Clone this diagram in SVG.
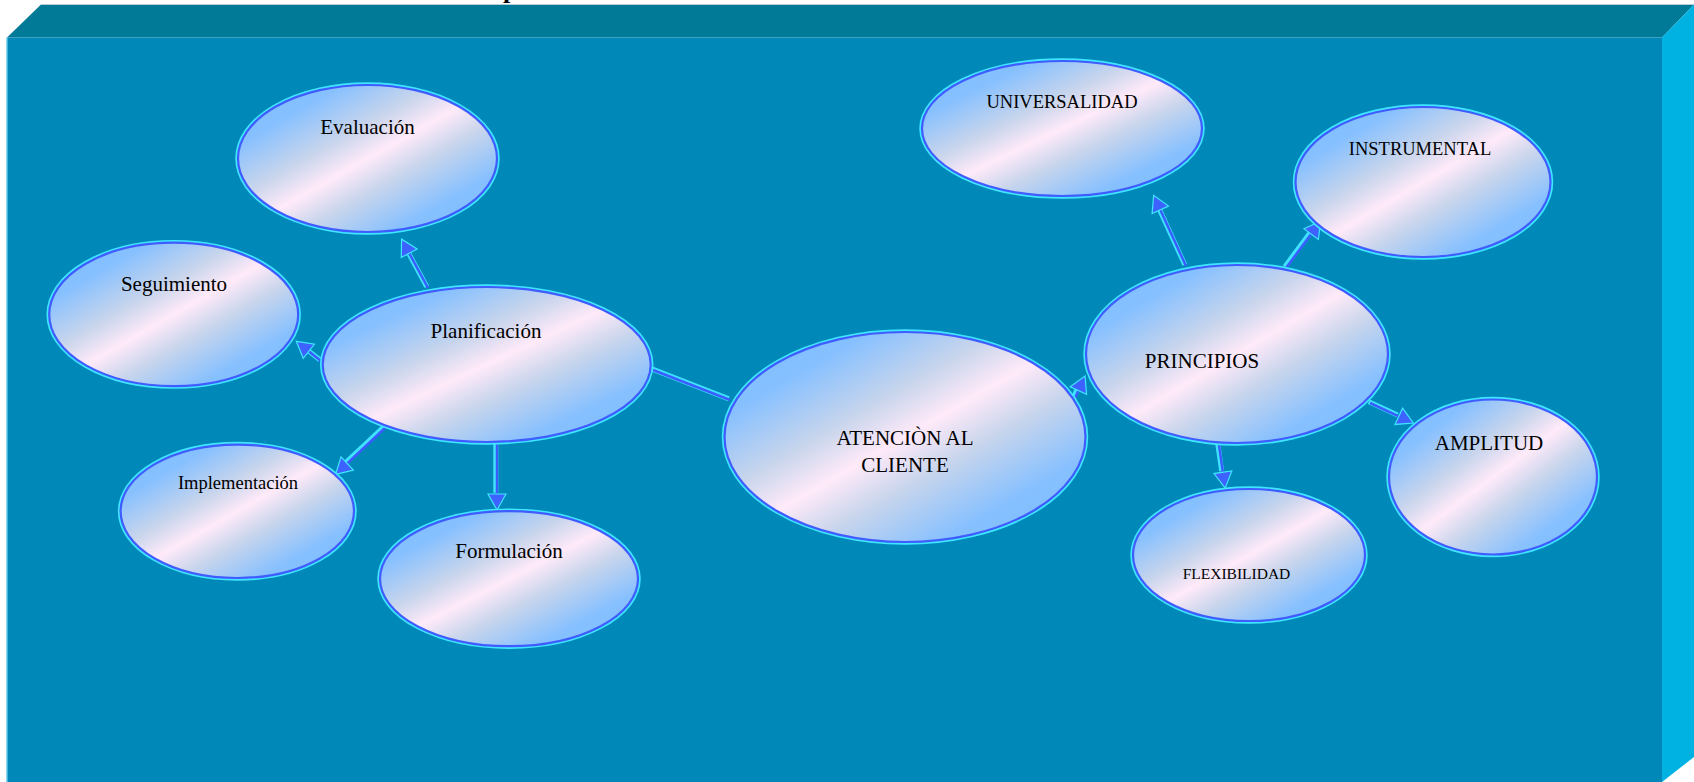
<svg xmlns="http://www.w3.org/2000/svg" width="1694" height="782" viewBox="0 0 1694 782">
<style>
.halo{fill:none;stroke:#40E6FF;stroke-width:5.5}
.ell{fill:url(#g);stroke:#3F5CFF;stroke-width:2.2}
.t{font-family:"Liberation Serif","Times New Roman",serif;fill:#000;text-anchor:middle}
.sh{fill:none;stroke:#3FE3FF;stroke-width:5;stroke-linecap:butt}
.ln{fill:none;stroke:#3B5CFF;stroke-width:2.5}
</style>
<defs>
<linearGradient id="g" x1="0" y1="0" x2="1" y2="1">
<stop offset="0" stop-color="#7ABBFF"/>
<stop offset="0.2" stop-color="#86C0FF"/>
<stop offset="0.38" stop-color="#C8D5EC"/>
<stop offset="0.5" stop-color="#FFEAF9"/>
<stop offset="0.62" stop-color="#C8D5EC"/>
<stop offset="0.8" stop-color="#86C0FF"/>
<stop offset="1" stop-color="#7ABBFF"/>
</linearGradient>
<marker id="ah" markerUnits="userSpaceOnUse" markerWidth="20" markerHeight="22" viewBox="-1 -11 18 22" refX="0" refY="0" orient="auto">
<path d="M0,-9 L16,0 L0,9 Z" fill="#3D62FF" stroke="#3FE6FF" stroke-width="1.2"/>
</marker>
</defs>

<g id="background">
<rect x="0" y="0" width="1694" height="782" fill="#FFFFFF"/>
<polygon points="7,37.5 41,4.5 1694,4.5 1662,37.5" fill="#007A96"/>
<line x1="41" y1="4.5" x2="1694" y2="4.5" stroke="#B8CCD4" stroke-width="1"/>
<rect x="7" y="37.5" width="1655" height="746" fill="#0088B9"/>
<line x1="7" y1="37.5" x2="7" y2="782" stroke="#5CC8E8" stroke-width="1.5"/>
<polygon points="1662,37.5 1694,4.5 1694,757 1662,782" fill="#00B2E2"/>
<text x="503" y="-2" font-family="Liberation Serif, serif" font-weight="bold" font-size="26" fill="#000">p</text>
</g>

<g id="connectors">
<g transform="translate(-1.2,-1.2)">
<path class="sh" d="M428,288 L409.2,253.2"/>
<path class="sh" d="M321,361 L308.8,351.3"/>
<path class="sh" d="M385,428 L347.2,463.5"/>
<path class="sh" d="M497,444 L497,494"/>
<path class="sh" d="M653,370 L730,400"/>
<path class="sh" d="M1075,398 L1078.4,390.6"/>
<path class="sh" d="M1186,266 L1160.3,209.8"/>
<path class="sh" d="M1286,268 L1311.1,234.1"/>
<path class="sh" d="M1219,445 L1222.9,472.3"/>
<path class="sh" d="M1370,403 L1398.8,416.3"/>
</g>
<path class="ln" d="M428,288 L409.2,253.2" marker-end="url(#ah)"/>
<path class="ln" d="M321,361 L308.8,351.3" marker-end="url(#ah)"/>
<path class="ln" d="M385,428 L347.2,463.5" marker-end="url(#ah)"/>
<path class="ln" d="M497,444 L497,494" marker-end="url(#ah)"/>
<path class="ln" d="M653,370 L730,400"/>
<path class="ln" d="M1075,398 L1078.4,390.6" marker-end="url(#ah)"/>
<path class="ln" d="M1186,266 L1160.3,209.8" marker-end="url(#ah)"/>
<path class="ln" d="M1286,268 L1311.1,234.1" marker-end="url(#ah)"/>
<path class="ln" d="M1219,445 L1222.9,472.3" marker-end="url(#ah)"/>
<path class="ln" d="M1370,403 L1398.8,416.3" marker-end="url(#ah)"/>
</g>

<g id="n-evaluacion">
<ellipse class="halo" cx="367.5" cy="158.5" rx="129.5" ry="73.5"/>
<ellipse class="ell" cx="367.5" cy="158.5" rx="129.5" ry="73.5"/>
<text class="t" x="367.5" y="134" font-size="21">Evaluación</text>
</g>
<g id="n-seguimiento">
<ellipse class="halo" cx="173.7" cy="314.4" rx="124.5" ry="71.7"/>
<ellipse class="ell" cx="173.7" cy="314.4" rx="124.5" ry="71.7"/>
<text class="t" x="174" y="291" font-size="21">Seguimiento</text>
</g>
<g id="n-planificacion">
<ellipse class="halo" cx="486.7" cy="364.5" rx="164" ry="77.5"/>
<ellipse class="ell" cx="486.7" cy="364.5" rx="164" ry="77.5"/>
<text class="t" x="486" y="338" font-size="21">Planificación</text>
</g>
<g id="n-implementacion">
<ellipse class="halo" cx="237.3" cy="511.3" rx="116.7" ry="66.7"/>
<ellipse class="ell" cx="237.3" cy="511.3" rx="116.7" ry="66.7"/>
<text class="t" x="238" y="489" font-size="18.5">Implementación</text>
</g>
<g id="n-formulacion">
<ellipse class="halo" cx="509" cy="578.7" rx="129" ry="67.5"/>
<ellipse class="ell" cx="509" cy="578.7" rx="129" ry="67.5"/>
<text class="t" x="509" y="558" font-size="21">Formulación</text>
</g>
<g id="n-atencion">
<ellipse class="halo" cx="905" cy="437" rx="180.5" ry="105"/>
<ellipse class="ell" cx="905" cy="437" rx="180.5" ry="105"/>
<text class="t" x="905" y="445" font-size="21">ATENCIÒN AL</text>
<text class="t" x="905" y="472" font-size="21">CLIENTE</text>
</g>
<g id="n-universalidad">
<ellipse class="halo" cx="1062" cy="128.5" rx="140" ry="67.5"/>
<ellipse class="ell" cx="1062" cy="128.5" rx="140" ry="67.5"/>
<text class="t" x="1062" y="108" font-size="18.5">UNIVERSALIDAD</text>
</g>
<g id="n-instrumental">
<ellipse class="halo" cx="1423" cy="182" rx="127.5" ry="75"/>
<ellipse class="ell" cx="1423" cy="182" rx="127.5" ry="75"/>
<text class="t" x="1420" y="155" font-size="18.5">INSTRUMENTAL</text>
</g>
<g id="n-principios">
<ellipse class="halo" cx="1237" cy="354" rx="151" ry="89"/>
<ellipse class="ell" cx="1237" cy="354" rx="151" ry="89"/>
<text class="t" x="1202" y="368" font-size="21">PRINCIPIOS</text>
</g>
<g id="n-amplitud">
<ellipse class="halo" cx="1493" cy="477" rx="104" ry="77.5"/>
<ellipse class="ell" cx="1493" cy="477" rx="104" ry="77.5"/>
<text class="t" x="1489" y="450" font-size="21">AMPLITUD</text>
</g>
<g id="n-flexibilidad">
<ellipse class="halo" cx="1249" cy="555" rx="116" ry="66"/>
<ellipse class="ell" cx="1249" cy="555" rx="116" ry="66"/>
<text class="t" x="1236.5" y="579" font-size="15.5">FLEXIBILIDAD</text>
</g>
</svg>
